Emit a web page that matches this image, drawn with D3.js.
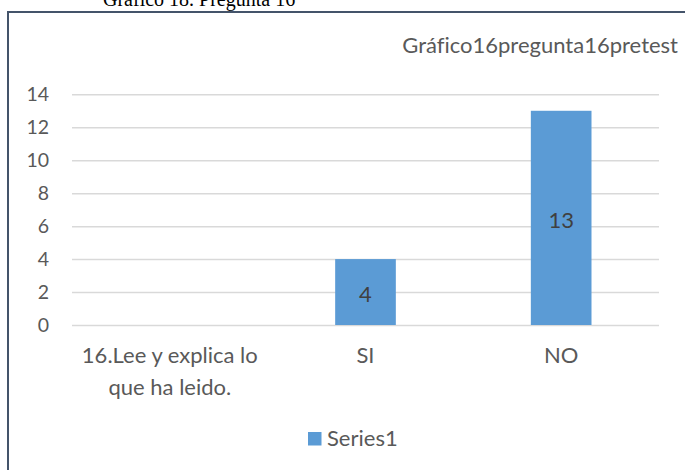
<!DOCTYPE html>
<html>
<head>
<meta charset="utf-8">
<script src="https://cdn.jsdelivr.net/npm/d3@7"></script>
<style>
  html, body { margin: 0; padding: 0; background: #ffffff; }
  svg { display: block; }
  text { font-variant-ligatures: none; font-feature-settings: "liga" 0; }
</style>
</head>
<body>
<svg id="chart" width="685" height="470"></svg>
<script>
// ---- data ----
const categories = ["16.Lee y explica lo que ha leido.", "SI", "NO"];
const seriesValues = [null, 4, 13];
const seriesName = "Series1";
const yTicks = [0, 2, 4, 6, 8, 10, 12, 14];
const chartTitle = "Gráfico16pregunta16pretest";
const captionText = "Gráfico 18. Pregunta 16";

const svg = d3.select("#chart");
const W = 685, H = 470;
const plot = { left: 72, right: 659, top: 94.3, bottom: 325 };

const font = "Lato, 'Open Sans', sans-serif";
const textColor = "#595959";

// caption above the frame (cut at the top edge, as in the source)
svg.append("text")
  .attr("x", 103).attr("y", 6)
  .attr("font-family", "'Liberation Serif', 'Times New Roman', serif")
  .attr("font-size", 20)
  .attr("fill", "#000")
  .text(captionText);

// frame (left and top lines)
svg.append("line").attr("x1", 8).attr("x2", 8).attr("y1", 11).attr("y2", H)
  .attr("stroke", "#44546a").attr("stroke-width", 2);
svg.append("line").attr("x1", 7).attr("x2", W).attr("y1", 12).attr("y2", 12)
  .attr("stroke", "#44546a").attr("stroke-width", 2);

// title
svg.append("text")
  .attr("x", 678).attr("y", 53)
  .attr("text-anchor", "end")
  .attr("font-family", font)
  .attr("font-size", 22)
  .attr("fill", textColor)
  .text(chartTitle);

// scales
const x = d3.scaleBand()
  .domain(categories)
  .range([plot.left, plot.right])
  .paddingInner(0.69)
  .paddingOuter(0.345);

const y = d3.scaleLinear()
  .domain([0, 14])
  .range([plot.bottom, plot.top]);

// y axis with gridlines
const yAxis = d3.axisLeft(y)
  .tickValues(yTicks)
  .tickSizeInner(-(plot.right - plot.left))
  .tickSizeOuter(0)
  .tickPadding(23);

const gy = svg.append("g")
  .attr("transform", `translate(${plot.left},0)`)
  .call(yAxis);
gy.select(".domain").remove();
gy.selectAll(".tick line").attr("stroke", "#d9d9d9").attr("stroke-width", 1.5);
gy.selectAll(".tick text")
  .attr("font-family", font)
  .attr("font-size", 19.5)
  .attr("fill", textColor);

// bars
const data = categories.map((c, i) => ({ cat: c, val: seriesValues[i] }));
svg.append("g").selectAll("rect")
  .data(data.filter(d => d.val != null))
  .join("rect")
  .attr("x", d => x(d.cat))
  .attr("width", x.bandwidth())
  .attr("y", d => y(d.val))
  .attr("height", d => y(0) - y(d.val))
  .attr("fill", "#5b9bd5");

// data labels
svg.append("g").selectAll("text")
  .data(data.filter(d => d.val != null))
  .join("text")
  .attr("x", d => x(d.cat) + x.bandwidth() / 2)
  .attr("y", d => (y(d.val) + y(0)) / 2 + 10)
  .attr("text-anchor", "middle")
  .attr("font-family", font)
  .attr("font-size", 22)
  .attr("fill", "#404040")
  .text(d => d.val);

// category labels with wrapping
const gx = svg.append("g");
categories.forEach(c => {
  const cx = x(c) + x.bandwidth() / 2;
  const t = gx.append("text")
    .attr("x", cx).attr("y", 363)
    .attr("text-anchor", "middle")
    .attr("font-family", font)
    .attr("font-size", 22)
    .attr("fill", textColor);
  const words = c.split(/\s+/);
  let line = [];
  let lineNo = 0;
  let tspan = t.append("tspan").attr("x", cx).attr("y", 363);
  words.forEach(w => {
    line.push(w);
    tspan.text(line.join(" "));
    if (tspan.node().getComputedTextLength() > 190 && line.length > 1) {
      line.pop();
      tspan.text(line.join(" "));
      line = [w];
      lineNo++;
      tspan = t.append("tspan").attr("x", cx).attr("y", 363 + lineNo * 32).text(w);
    }
  });
});

// legend
const lg = svg.append("g");
lg.append("rect").attr("x", 308).attr("y", 432).attr("width", 13.5).attr("height", 13.5)
  .attr("fill", "#5b9bd5");
lg.append("text").attr("x", 327).attr("y", 446)
  .attr("font-family", font)
  .attr("font-size", 22)
  .attr("fill", textColor)
  .text(seriesName);
</script>
</body>
</html>
